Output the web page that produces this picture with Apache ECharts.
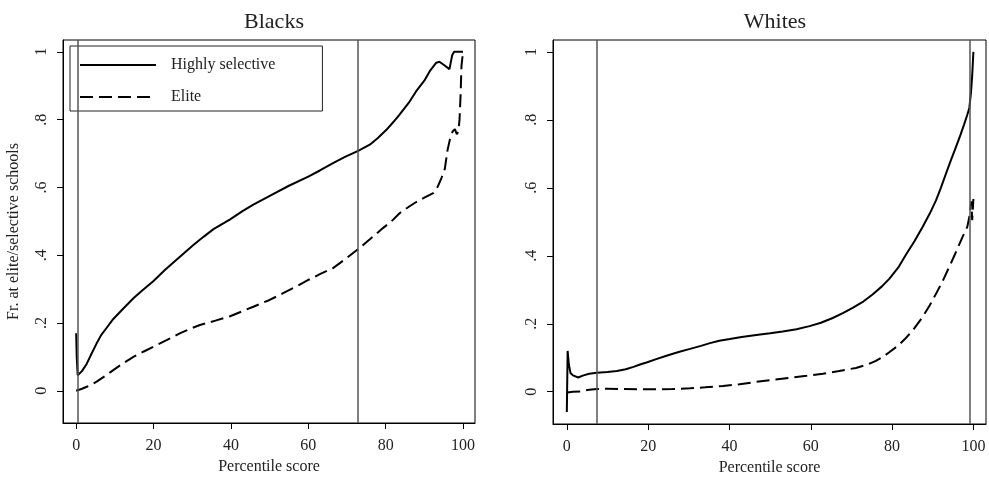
<!DOCTYPE html>
<html>
<head>
<meta charset="utf-8">
<script src="https://cdn.jsdelivr.net/npm/echarts@6/dist/echarts.min.js"></script>
<style>
  html, body { margin: 0; padding: 0; background: #fff; }
  #main { width: 989px; height: 478px; }
</style>
</head>
<body>
<div id="main"></div>
<script>
// panel titles, series names, ticks
const panelTitles = ['Blacks', 'Whites'];
const seriesNames = ['Highly selective', 'Elite'];
const xTicks = [0, 20, 40, 60, 80, 100];
const yTicks = [0, 0.2, 0.4, 0.6, 0.8, 1];

// vertical reference lines (percentile score)
const refLinesBlacks = [0.3, 72.9];
const refLinesWhites = [7.4, 99.0];

// Blacks: [percentile, fraction]
const blacksHigh = [
  [0, 0.17], [0.15, 0.1], [0.4, 0.046], [1.5, 0.058], [2.75, 0.08], [4, 0.11], [5.3, 0.14],
  [6.5, 0.165], [7.9, 0.186], [9.6, 0.212], [12.2, 0.243], [14.8, 0.273], [17, 0.295],
  [20, 0.324], [23, 0.357], [26.9, 0.396], [30.3, 0.43], [33, 0.455], [35.5, 0.477],
  [39.8, 0.506], [43, 0.53], [45.8, 0.549], [50.9, 0.58], [55, 0.605], [60, 0.632],
  [63, 0.65], [66.4, 0.672], [69.5, 0.69], [72.9, 0.708], [75.9, 0.726], [78, 0.746],
  [80.2, 0.77], [82, 0.793], [83.6, 0.815], [86, 0.85], [87.9, 0.884], [90, 0.915],
  [91.4, 0.943], [93.1, 0.968], [93.9, 0.971], [95, 0.962], [96.5, 0.949], [97.2, 0.99],
  [97.7, 1.0], [100, 1.0]
];
const blacksElite = [
  [0, 0], [1.5, 0.006], [2.75, 0.012], [4, 0.018], [5.3, 0.027], [7.5, 0.044], [9.6, 0.061],
  [12, 0.08], [14.8, 0.1], [17.5, 0.116], [20, 0.13], [23.5, 0.15], [26.9, 0.17],
  [29.5, 0.183], [32, 0.194], [36, 0.207], [39.8, 0.22], [43, 0.235], [45.8, 0.248],
  [50, 0.268], [53.5, 0.288], [57, 0.308], [60, 0.327], [63, 0.344], [66.4, 0.362],
  [69.5, 0.388], [72.9, 0.418], [76, 0.448], [79.3, 0.48], [81.5, 0.5], [83.6, 0.524],
  [86, 0.543], [87.9, 0.557], [90, 0.57], [92.3, 0.583], [93.5, 0.603], [94.5, 0.63],
  [95.3, 0.655], [96, 0.71], [96.6, 0.741], [97.3, 0.765], [97.9, 0.772], [98.4, 0.757],
  [98.8, 0.765], [99.1, 0.8], [99.4, 0.88], [99.6, 0.958], [100, 1.0]
];

// Whites
const whitesHigh = [
  [0, -0.06], [0.1, 0.03], [0.2, 0.12], [0.5, 0.08], [0.9, 0.055], [1.5, 0.048], [2.8, 0.042],
  [4.1, 0.048], [5.5, 0.053], [7.4, 0.056], [10, 0.058], [12.3, 0.061], [14.5, 0.066],
  [16.4, 0.073], [18, 0.08], [19.6, 0.086], [22, 0.096], [24.5, 0.106], [27.5, 0.117],
  [30.3, 0.126], [33, 0.135], [35.2, 0.143], [37.5, 0.15], [40.1, 0.155], [43, 0.161],
  [46.6, 0.167], [50, 0.172], [53.1, 0.177], [56.5, 0.184], [59.7, 0.193], [62.5, 0.203],
  [65.4, 0.217], [68, 0.232], [70.3, 0.247], [73, 0.266], [75.2, 0.286], [77.5, 0.31],
  [79.3, 0.332], [81.5, 0.365], [83.4, 0.403], [85.5, 0.443], [87.5, 0.485], [89.3, 0.525],
  [90.8, 0.563], [92, 0.6], [93.2, 0.64], [94.5, 0.682], [95.7, 0.72], [96.8, 0.755],
  [97.7, 0.786], [98.5, 0.815], [99, 0.835], [99.4, 0.88], [99.7, 0.93], [100, 1.0]
];
const whitesElite = [
  [0.1, -0.002], [1.5, 0.0], [3.3, 0.001], [5.5, 0.006], [7.4, 0.008], [10, 0.009],
  [13.9, 0.008], [18, 0.007], [22.1, 0.007], [26, 0.008], [30.3, 0.01], [34, 0.013],
  [38.4, 0.017], [42.5, 0.022], [46.6, 0.029], [50.5, 0.035], [54.8, 0.041], [59, 0.047],
  [63, 0.053], [67, 0.061], [71.1, 0.07], [74, 0.08], [76, 0.091], [77.8, 0.103],
  [79.3, 0.116], [81.5, 0.136], [83.4, 0.158], [85.5, 0.187], [87.5, 0.22], [89.2, 0.253],
  [90.8, 0.288], [92.5, 0.327], [94, 0.366], [95.3, 0.4], [96.5, 0.433], [97.5, 0.46],
  [98.5, 0.485], [99.1, 0.52], [99.5, 0.56], [99.7, 0.505], [99.9, 0.545], [100, 0.567]
];

const FONT = 'Liberation Serif';
const TXT = '#222';

const chart = echarts.init(document.getElementById('main'));

function xAxisFor(gridIndex) {
  return {
    type: 'value', gridIndex: gridIndex, min: -3.4, max: 103.1,
    name: 'Percentile score', nameLocation: 'middle', nameGap: 36,
    nameTextStyle: { fontFamily: FONT, fontSize: 16, color: TXT },
    axisLine: { show: true, onZero: false, lineStyle: { color: '#000', width: 1 } },
    axisTick: { show: true, length: 6, customValues: xTicks, lineStyle: { color: '#000' } },
    axisLabel: { customValues: xTicks, margin: 15, fontFamily: FONT, fontSize: 16, color: TXT },
    splitLine: { show: false }
  };
}
function yAxisFor(gridIndex, withName) {
  return {
    type: 'value', gridIndex: gridIndex, min: -0.095, max: 1.035,
    name: withName ? 'Fr. at elite/selective schools' : '',
    nameLocation: 'middle', nameGap: 41,
    nameTextStyle: { fontFamily: FONT, fontSize: 16, color: TXT },
    axisLine: { show: true, onZero: false, lineStyle: { color: '#000', width: 1 } },
    axisTick: { show: true, length: 6, customValues: yTicks, lineStyle: { color: '#000' } },
    axisLabel: {
      customValues: yTicks, rotate: 90, margin: 13, fontFamily: FONT, fontSize: 16, color: TXT,
      formatter: v => (v === 0 ? '0' : v === 1 ? '1' : String(v).replace(/^0/, ''))
    },
    splitLine: { show: false }
  };
}
function refLines(values) {
  return {
    silent: true, symbol: ['none', 'none'], animation: false,
    label: { show: false },
    lineStyle: { color: '#555', width: 1.5, type: 'solid' },
    data: values.map(v => ({ xAxis: v }))
  };
}
function lineSeries(name, data, idx, dashed, marks) {
  const s = {
    name: name, type: 'line', xAxisIndex: idx, yAxisIndex: idx, data: data,
    symbol: 'none', showSymbol: false,
    lineStyle: { color: '#000', width: 2, type: dashed ? [13, 6] : 'solid' },
    itemStyle: { color: '#000' }
  };
  if (marks) s.markLine = refLines(marks);
  return s;
}

const option = {
  backgroundColor: '#fff',
  animation: false,
  title: [
    { text: panelTitles[0], left: 269, top: 6, textAlign: 'center',
      textStyle: { fontFamily: FONT, fontSize: 22, fontWeight: 'normal', color: TXT } },
    { text: panelTitles[1], left: 770, top: 6, textAlign: 'center',
      textStyle: { fontFamily: FONT, fontSize: 22, fontWeight: 'normal', color: TXT } }
  ],
  legend: {
    data: seriesNames, orient: 'vertical', left: 70, top: 46,
    padding: [11, 47, 6, 9], itemWidth: 76, itemHeight: 14, itemGap: 16,
    borderColor: '#222', borderWidth: 1, backgroundColor: '#fff',
    itemStyle: { opacity: 0 },
    textStyle: { fontFamily: FONT, fontSize: 16, color: TXT, padding: [0, 0, 0, 10] }
  },
  grid: [
    { left: 63, top: 40, width: 412, height: 383, show: true, outerBoundsMode: 'none', containLabel: false,
      borderColor: '#000', borderWidth: 1, backgroundColor: 'transparent' },
    { left: 553, top: 40, width: 433, height: 384, show: true, outerBoundsMode: 'none', containLabel: false,
      borderColor: '#000', borderWidth: 1, backgroundColor: 'transparent' }
  ],
  xAxis: [xAxisFor(0), xAxisFor(1)],
  yAxis: [yAxisFor(0, true), yAxisFor(1, false)],
  series: [
    lineSeries(seriesNames[0], blacksHigh, 0, false, refLinesBlacks),
    lineSeries(seriesNames[1], blacksElite, 0, true),
    lineSeries(seriesNames[0], whitesHigh, 1, false, refLinesWhites),
    lineSeries(seriesNames[1], whitesElite, 1, true)
  ]
};

chart.setOption(option);
</script>
</body>
</html>
